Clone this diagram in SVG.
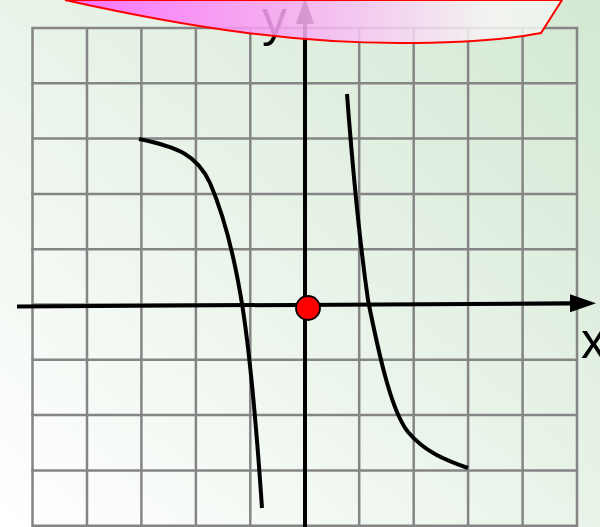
<svg xmlns="http://www.w3.org/2000/svg" width="600" height="527" viewBox="0 0 600 527">
  <defs>
    <linearGradient id="bg" x1="0" y1="1" x2="1" y2="0">
      <stop offset="0" stop-color="#ffffff"/>
      <stop offset="1" stop-color="#d3e8d3"/>
    </linearGradient>
    <linearGradient id="pink" x1="65" y1="0" x2="560" y2="0" gradientUnits="userSpaceOnUse">
      <stop offset="0" stop-color="#ff5cff"/>
      <stop offset="0.45" stop-color="#f8a8f2"/>
      <stop offset="0.85" stop-color="#f6f4f4"/>
      <stop offset="1" stop-color="#f0f6f0"/>
    </linearGradient>
    <marker id="arrow" viewBox="0 0 26 18" refX="0" refY="9" markerWidth="26" markerHeight="18" markerUnits="userSpaceOnUse" orient="auto">
      <path d="M0,0 L26,9 L0,18 Z" fill="#000"/>
    </marker>
    <style>
      .grid line { stroke: #858585; stroke-width: 2.5; }
      .axis { stroke: #000; stroke-width: 4; fill: none; }
      .curve { stroke: #000; stroke-width: 4; fill: none; stroke-linecap: butt; }
      .lbl { font-family: "Liberation Sans", Arial, sans-serif; font-size: 50px; fill: #000; }
    </style>
  </defs>

  <rect id="background" x="0" y="0" width="600" height="527" fill="url(#bg)"/>

  <g id="grid" class="grid">
    <line x1="32.5" y1="28" x2="32.5" y2="525.7"/>
    <line x1="87" y1="28" x2="87" y2="525.7"/>
    <line x1="141.4" y1="28" x2="141.4" y2="525.7"/>
    <line x1="195.9" y1="28" x2="195.9" y2="525.7"/>
    <line x1="250.3" y1="28" x2="250.3" y2="525.7"/>
    <line x1="304.8" y1="28" x2="304.8" y2="525.7"/>
    <line x1="359.2" y1="28" x2="359.2" y2="525.7"/>
    <line x1="413.7" y1="28" x2="413.7" y2="525.7"/>
    <line x1="468.1" y1="28" x2="468.1" y2="525.7"/>
    <line x1="522.6" y1="28" x2="522.6" y2="525.7"/>
    <line x1="577" y1="28" x2="577" y2="525.7"/>
    <line x1="31.3" y1="28" x2="578.2" y2="28"/>
    <line x1="31.3" y1="83.3" x2="578.2" y2="83.3"/>
    <line x1="31.3" y1="138.6" x2="578.2" y2="138.6"/>
    <line x1="31.3" y1="193.9" x2="578.2" y2="193.9"/>
    <line x1="31.3" y1="249.2" x2="578.2" y2="249.2"/>
    <line x1="31.3" y1="304.5" x2="578.2" y2="304.5"/>
    <line x1="31.3" y1="359.8" x2="578.2" y2="359.8"/>
    <line x1="31.3" y1="415.1" x2="578.2" y2="415.1"/>
    <line x1="31.3" y1="470.4" x2="578.2" y2="470.4"/>
    <line x1="31.3" y1="525.7" x2="578.2" y2="525.7"/>
  </g>

  <g id="connectors">
    <line id="x-axis" class="axis" x1="17" y1="306.5" x2="570" y2="303.3" marker-end="url(#arrow)"/>
    <line id="y-axis" class="axis" x1="305" y1="527" x2="305" y2="24" marker-end="url(#arrow)"/>
  </g>

  <g id="curve-left">
    <path class="curve" d="M139,139 C178,147 197,155 210,183 C226,220 236,265 243,310 C249,350 256,420 262,508"/>
  </g>
  <g id="curve-right">
    <path class="curve" d="M347,94 C352,160 358,230 368,300 C380,360 392,412 408,432 C425,452 445,460 468,468"/>
  </g>

  <g id="origin">
    <circle cx="308" cy="308" r="12" fill="#ff0000" stroke="#000" stroke-width="1.8"/>
  </g>

  <g id="label-x">
    <text class="lbl" x="581" y="358">x</text>
  </g>
  <g id="label-y">
    <text class="lbl" x="262" y="36">y</text>
  </g>

  <g id="banner">
    <path d="M65,0 C200,30 300,43 400,43 C470,43 510,39 541,33 L562,0 Z" fill="url(#pink)" fill-opacity="0.86" stroke="#ff0000" stroke-width="2"/>
  </g>
</svg>
